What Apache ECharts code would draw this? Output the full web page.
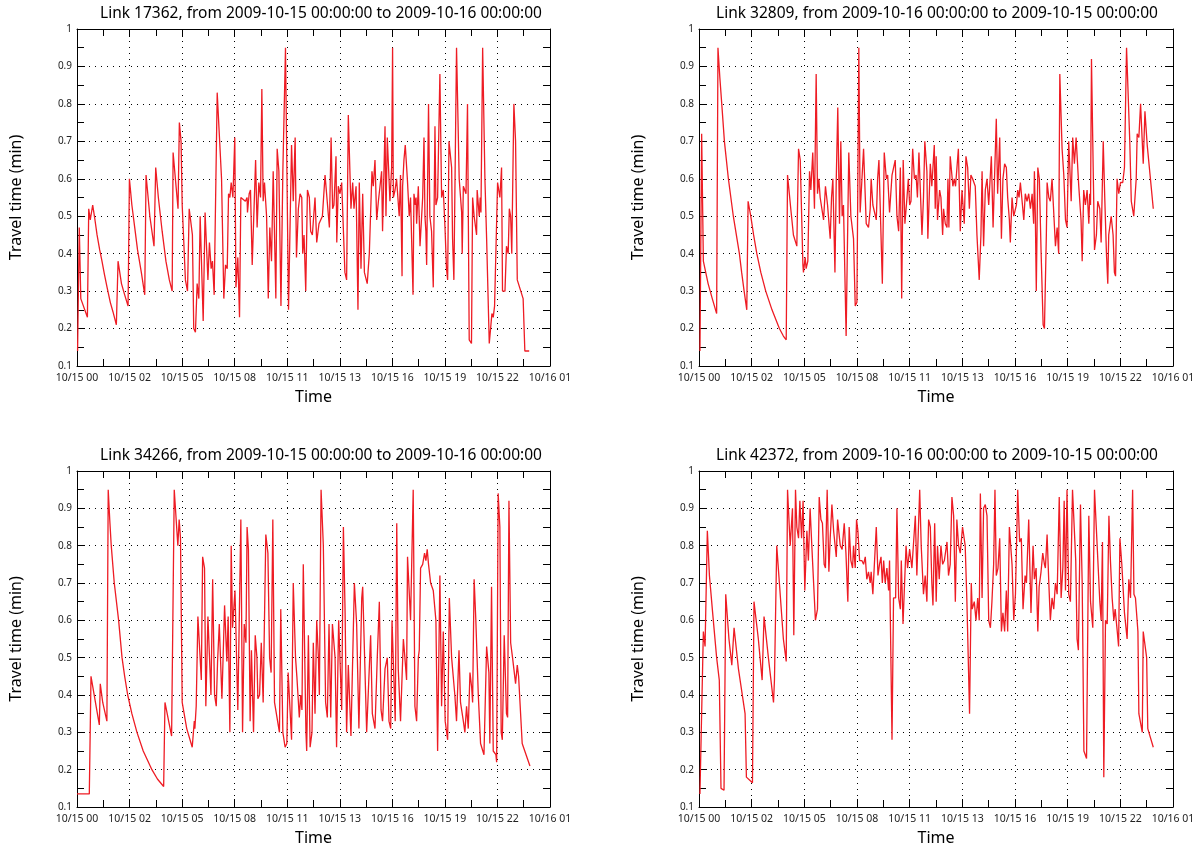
<!DOCTYPE html>
<html><head><meta charset="utf-8">
<script src="https://cdn.jsdelivr.net/npm/echarts@6/dist/echarts.min.js"></script>
<style>html,body{margin:0;padding:0;background:#fff}#c{width:1198px;height:851px}</style>
</head><body><div id="c"></div>
<script>
// x tick labels (axis spans 0..25 hours, 9 equal intervals)
const tickLabels = ['10/15 00','10/15 02','10/15 05','10/15 08','10/15 11','10/15 13','10/15 16','10/15 19','10/15 22','10/16 01'];
const titles = [
  'Link 17362, from 2009-10-15 00:00:00 to 2009-10-16 00:00:00',
  'Link 32809, from 2009-10-16 00:00:00 to 2009-10-15 00:00:00',
  'Link 34266, from 2009-10-15 00:00:00 to 2009-10-16 00:00:00',
  'Link 42372, from 2009-10-16 00:00:00 to 2009-10-15 00:00:00'
];
// [hours since 10/15 00:00, travel time (min)]
const link17362 = [[0.03,0.14],[0.12,0.47],[0.2,0.28],[0.55,0.23],[0.62,0.52],[0.7,0.49],[0.83,0.53],[0.95,0.49],[1.06,0.45],[1.2,0.41],[1.32,0.38],[1.45,0.345],[1.59,0.31],[1.76,0.27],[1.9,0.245],[2.03,0.22],[2.08,0.21],[2.17,0.38],[2.35,0.32],[2.52,0.29],[2.7,0.26],[2.77,0.6],[2.9,0.53],[3.05,0.47],[3.2,0.41],[3.4,0.35],[3.58,0.29],[3.65,0.61],[3.85,0.5],[4.07,0.42],[4.16,0.63],[4.3,0.55],[4.5,0.46],[4.7,0.38],[4.88,0.33],[5.03,0.3],[5.08,0.67],[5.2,0.6],[5.34,0.52],[5.41,0.75],[5.5,0.7],[5.56,0.53],[5.73,0.33],[5.84,0.3],[5.93,0.52],[6.1,0.45],[6.17,0.2],[6.26,0.19],[6.35,0.32],[6.44,0.28],[6.51,0.5],[6.67,0.22],[6.77,0.51],[6.86,0.51],[6.92,0.33],[7.0,0.43],[7.09,0.36],[7.16,0.38],[7.25,0.29],[7.41,0.83],[7.51,0.83],[7.64,0.6],[7.76,0.28],[7.85,0.37],[7.94,0.36],[8.01,0.56],[8.08,0.55],[8.15,0.59],[8.24,0.55],[8.34,0.71],[8.4,0.31],[8.5,0.39],[8.59,0.23],[8.66,0.55],[8.9,0.54],[8.99,0.55],[9.01,0.51],[9.1,0.56],[9.17,0.57],[9.26,0.37],[9.44,0.65],[9.52,0.47],[9.61,0.59],[9.7,0.55],[9.77,0.84],[9.84,0.54],[9.91,0.59],[10.02,0.5],[10.11,0.28],[10.19,0.47],[10.28,0.38],[10.37,0.62],[10.51,0.28],[10.58,0.68],[10.67,0.62],[10.78,0.26],[10.88,0.62],[11.02,0.95],[11.18,0.25],[11.34,0.69],[11.43,0.54],[11.53,0.71],[11.6,0.39],[11.7,0.52],[11.79,0.56],[11.88,0.55],[11.93,0.4],[12.0,0.45],[12.09,0.3],[12.18,0.57],[12.28,0.55],[12.35,0.46],[12.44,0.45],[12.58,0.55],[12.67,0.43],[12.79,0.48],[12.88,0.49],[12.97,0.5],[13.11,0.61],[13.34,0.47],[13.43,0.71],[13.51,0.52],[13.58,0.53],[13.69,0.66],[13.73,0.43],[13.81,0.58],[13.9,0.56],[13.99,0.59],[14.16,0.35],[14.25,0.33],[14.34,0.77],[14.48,0.52],[14.57,0.59],[14.64,0.52],[14.75,0.58],[14.85,0.25],[14.92,0.59],[15.01,0.36],[15.1,0.56],[15.19,0.35],[15.34,0.32],[15.45,0.4],[15.59,0.62],[15.66,0.58],[15.75,0.65],[15.84,0.49],[15.93,0.54],[16.01,0.54],[16.1,0.62],[16.15,0.46],[16.28,0.74],[16.33,0.5],[16.4,0.71],[16.54,0.54],[16.63,0.63],[16.68,0.95],[16.72,0.55],[16.81,0.57],[16.89,0.6],[17.03,0.5],[17.1,0.61],[17.18,0.34],[17.21,0.58],[17.28,0.65],[17.35,0.69],[17.46,0.6],[17.56,0.5],[17.63,0.55],[17.76,0.29],[17.81,0.56],[17.88,0.53],[17.92,0.55],[17.95,0.48],[18.04,0.58],[18.13,0.42],[18.21,0.42],[18.27,0.55],[18.34,0.71],[18.39,0.5],[18.44,0.46],[18.48,0.37],[18.58,0.8],[18.65,0.5],[18.74,0.46],[18.83,0.31],[18.92,0.74],[18.97,0.53],[19.06,0.55],[19.18,0.88],[19.27,0.55],[19.36,0.57],[19.45,0.47],[19.53,0.36],[19.59,0.33],[19.66,0.7],[19.8,0.63],[19.85,0.44],[19.92,0.33],[20.06,0.95],[20.2,0.6],[20.33,0.51],[20.36,0.4],[20.42,0.58],[20.56,0.56],[20.64,0.8],[20.73,0.17],[20.85,0.16],[20.91,0.55],[20.99,0.5],[21.08,0.5],[21.12,0.45],[21.15,0.57],[21.26,0.5],[21.31,0.55],[21.35,0.51],[21.44,0.95],[21.56,0.6],[21.65,0.44],[21.79,0.16],[21.86,0.16],[21.93,0.24],[22.0,0.23],[22.07,0.26],[22.23,0.59],[22.35,0.55],[22.44,0.63],[22.49,0.3],[22.62,0.3],[22.7,0.42],[22.79,0.4],[22.85,0.52],[22.92,0.5],[22.98,0.4],[23.09,0.8],[23.18,0.7],[23.27,0.33],[23.58,0.28],[23.67,0.14],[23.9,0.14]];
const link32809 = [[0.05,0.14],[0.14,0.72],[0.23,0.38],[0.48,0.32],[0.7,0.28],[0.93,0.24],[1.0,0.95],[1.1,0.87],[1.2,0.8],[1.34,0.7],[1.55,0.6],[1.81,0.5],[2.13,0.4],[2.25,0.35],[2.38,0.3],[2.52,0.25],[2.59,0.54],[2.73,0.5],[2.88,0.45],[3.05,0.4],[3.26,0.35],[3.52,0.3],[3.85,0.25],[4.24,0.2],[4.45,0.18],[4.6,0.17],[4.67,0.61],[4.84,0.52],[4.98,0.45],[5.07,0.45],[5.16,0.42],[5.25,0.68],[5.34,0.65],[5.48,0.37],[5.51,0.35],[5.6,0.39],[5.65,0.36],[5.74,0.38],[5.83,0.62],[5.9,0.57],[6.0,0.67],[6.09,0.52],[6.18,0.88],[6.25,0.56],[6.32,0.6],[6.39,0.55],[6.48,0.55],[6.57,0.49],[6.67,0.58],[6.78,0.53],[6.92,0.44],[6.99,0.55],[7.06,0.6],[7.17,0.35],[7.24,0.6],[7.32,0.79],[7.41,0.48],[7.48,0.7],[7.55,0.5],[7.62,0.53],[7.76,0.18],[7.9,0.67],[8.01,0.5],[8.15,0.44],[8.24,0.26],[8.33,0.27],[8.43,0.95],[8.5,0.51],[8.68,0.68],[8.82,0.48],[8.94,0.47],[9.03,0.52],[9.08,0.6],[9.17,0.53],[9.26,0.53],[9.35,0.49],[9.42,0.6],[9.49,0.65],[9.67,0.32],[9.77,0.67],[9.88,0.6],[9.95,0.61],[10.05,0.51],[10.18,0.61],[10.27,0.61],[10.35,0.65],[10.44,0.5],[10.53,0.46],[10.62,0.63],[10.69,0.28],[10.77,0.65],[10.86,0.48],[10.97,0.55],[11.04,0.6],[11.11,0.53],[11.18,0.54],[11.27,0.68],[11.36,0.6],[11.45,0.61],[11.52,0.55],[11.6,0.67],[11.76,0.45],[11.84,0.55],[11.91,0.7],[12.02,0.62],[12.07,0.44],[12.2,0.64],[12.28,0.58],[12.41,0.69],[12.46,0.52],[12.51,0.66],[12.58,0.49],[12.69,0.57],[12.76,0.55],[12.85,0.45],[12.9,0.52],[12.99,0.48],[13.08,0.47],[13.13,0.6],[13.18,0.47],[13.25,0.66],[13.39,0.58],[13.46,0.6],[13.53,0.58],[13.68,0.68],[13.78,0.46],[13.87,0.57],[13.99,0.48],[14.08,0.66],[14.17,0.63],[14.26,0.52],[14.34,0.61],[14.43,0.6],[14.57,0.58],[14.66,0.45],[14.78,0.33],[14.87,0.45],[14.93,0.62],[15.01,0.42],[15.1,0.57],[15.19,0.6],[15.28,0.53],[15.42,0.66],[15.51,0.47],[15.58,0.59],[15.68,0.76],[15.75,0.56],[15.86,0.71],[15.95,0.44],[16.03,0.6],[16.12,0.64],[16.21,0.63],[16.28,0.55],[16.37,0.49],[16.42,0.43],[16.51,0.55],[16.6,0.5],[16.69,0.5],[16.74,0.53],[16.81,0.57],[16.88,0.55],[16.95,0.59],[17.06,0.53],[17.13,0.49],[17.21,0.56],[17.3,0.54],[17.39,0.56],[17.48,0.52],[17.57,0.56],[17.65,0.48],[17.69,0.62],[17.74,0.5],[17.79,0.3],[17.87,0.63],[17.95,0.6],[18.04,0.41],[18.15,0.21],[18.22,0.2],[18.32,0.45],[18.36,0.59],[18.45,0.55],[18.53,0.54],[18.62,0.6],[18.8,0.42],[18.89,0.47],[18.97,0.4],[19.03,0.88],[19.15,0.68],[19.24,0.61],[19.33,0.49],[19.41,0.47],[19.5,0.7],[19.63,0.54],[19.71,0.71],[19.8,0.64],[19.89,0.71],[20.03,0.58],[20.15,0.49],[20.21,0.38],[20.29,0.57],[20.38,0.53],[20.47,0.57],[20.56,0.48],[20.61,0.56],[20.65,0.53],[20.7,0.92],[20.79,0.63],[20.86,0.41],[20.96,0.45],[21.03,0.54],[21.14,0.52],[21.21,0.43],[21.28,0.6],[21.32,0.7],[21.4,0.55],[21.49,0.4],[21.56,0.32],[21.61,0.45],[21.74,0.5],[21.84,0.45],[21.91,0.35],[21.97,0.34],[22.05,0.6],[22.14,0.56],[22.23,0.59],[22.35,0.59],[22.44,0.63],[22.55,0.95],[22.72,0.7],[22.8,0.54],[22.93,0.5],[23.06,0.6],[23.11,0.72],[23.2,0.71],[23.29,0.8],[23.43,0.64],[23.52,0.78],[23.64,0.69],[23.96,0.52]];
const link34266 = [[0,0.135],[0.65,0.135],[0.74,0.45],[1.18,0.32],[1.23,0.43],[1.36,0.38],[1.58,0.33],[1.65,0.95],[1.73,0.87],[1.81,0.8],[1.97,0.7],[2.2,0.6],[2.38,0.5],[2.52,0.45],[2.68,0.4],[2.9,0.35],[3.17,0.3],[3.5,0.25],[3.96,0.2],[4.25,0.175],[4.58,0.155],[4.65,0.38],[5.0,0.29],[5.14,0.95],[5.33,0.8],[5.4,0.87],[5.47,0.82],[5.56,0.38],[5.8,0.31],[6.09,0.26],[6.2,0.33],[6.23,0.31],[6.3,0.37],[6.39,0.61],[6.57,0.44],[6.64,0.77],[6.74,0.74],[6.81,0.37],[6.92,0.61],[7.08,0.4],[7.17,0.71],[7.27,0.4],[7.36,0.37],[7.43,0.49],[7.52,0.59],[7.66,0.39],[7.8,0.64],[7.92,0.49],[7.99,0.61],[8.08,0.3],[8.15,0.8],[8.22,0.58],[8.35,0.68],[8.5,0.36],[8.66,0.87],[8.75,0.3],[8.84,0.59],[8.93,0.54],[8.99,0.85],[9.06,0.79],[9.15,0.33],[9.22,0.52],[9.33,0.3],[9.42,0.56],[9.51,0.5],[9.56,0.39],[9.65,0.4],[9.74,0.54],[9.84,0.38],[9.98,0.83],[10.09,0.78],[10.18,0.5],[10.26,0.46],[10.35,0.87],[10.44,0.38],[10.7,0.3],[10.77,0.63],[10.88,0.3],[11.0,0.26],[11.09,0.27],[11.16,0.46],[11.34,0.28],[11.43,0.7],[11.55,0.5],[11.62,0.45],[11.75,0.34],[11.82,0.4],[11.89,0.36],[11.96,0.75],[12.1,0.3],[12.14,0.25],[12.23,0.56],[12.32,0.26],[12.42,0.3],[12.49,0.54],[12.58,0.35],[12.67,0.6],[12.76,0.5],[12.81,0.4],[12.9,0.95],[13.02,0.8],[13.14,0.38],[13.23,0.34],[13.32,0.59],[13.41,0.34],[13.5,0.59],[13.64,0.5],[13.72,0.26],[13.83,0.6],[13.99,0.36],[14.08,0.85],[14.17,0.62],[14.25,0.3],[14.34,0.48],[14.48,0.29],[14.66,0.7],[14.78,0.59],[14.9,0.31],[15.05,0.66],[15.1,0.69],[15.31,0.3],[15.4,0.3],[15.52,0.56],[15.61,0.35],[15.75,0.31],[15.87,0.5],[15.98,0.65],[16.07,0.36],[16.15,0.33],[16.28,0.47],[16.4,0.5],[16.49,0.33],[16.58,0.31],[16.65,0.6],[16.72,0.6],[16.82,0.33],[16.9,0.86],[16.98,0.47],[17.1,0.33],[17.25,0.55],[17.33,0.5],[17.42,0.44],[17.47,0.77],[17.63,0.6],[17.77,0.95],[17.86,0.37],[17.95,0.33],[18.04,0.5],[18.09,0.52],[18.16,0.74],[18.27,0.75],[18.37,0.78],[18.44,0.76],[18.51,0.79],[18.58,0.75],[18.69,0.7],[18.83,0.68],[18.97,0.6],[19.06,0.25],[19.18,0.72],[19.27,0.37],[19.36,0.57],[19.46,0.33],[19.59,0.28],[19.68,0.66],[19.8,0.5],[19.97,0.4],[20.06,0.33],[20.19,0.52],[20.27,0.38],[20.42,0.33],[20.5,0.3],[20.59,0.37],[20.68,0.31],[20.77,0.46],[20.86,0.42],[20.91,0.38],[20.99,0.71],[21.08,0.6],[21.21,0.4],[21.33,0.27],[21.51,0.24],[21.65,0.53],[21.77,0.46],[21.82,0.27],[21.91,0.69],[22.0,0.25],[22.14,0.24],[22.18,0.22],[22.26,0.94],[22.35,0.85],[22.42,0.3],[22.48,0.28],[22.58,0.56],[22.7,0.35],[22.76,0.34],[22.83,0.92],[22.92,0.54],[23.02,0.5],[23.09,0.47],[23.18,0.43],[23.27,0.48],[23.34,0.45],[23.41,0.45],[23.53,0.27],[23.94,0.21]];
const link42372 = [[0.05,0.135],[0.14,0.135],[0.23,0.57],[0.32,0.53],[0.44,0.84],[0.55,0.72],[0.72,0.62],[0.93,0.5],[1.07,0.44],[1.16,0.15],[1.32,0.145],[1.41,0.67],[1.58,0.55],[1.73,0.48],[1.85,0.58],[2.08,0.47],[2.43,0.35],[2.5,0.18],[2.82,0.165],[2.9,0.65],[3.13,0.55],[3.22,0.5],[3.33,0.44],[3.43,0.61],[3.66,0.5],[3.93,0.38],[3.98,0.44],[4.1,0.8],[4.24,0.7],[4.45,0.55],[4.6,0.49],[4.67,0.95],[4.81,0.8],[4.86,0.8],[4.93,0.9],[5.0,0.56],[5.09,0.95],[5.16,0.85],[5.25,0.82],[5.32,0.92],[5.41,0.82],[5.49,0.92],[5.58,0.68],[5.69,0.84],[5.77,0.76],[5.86,0.9],[5.95,0.8],[6.14,0.6],[6.25,0.63],[6.34,0.93],[6.43,0.87],[6.51,0.86],[6.6,0.75],[6.67,0.74],[6.76,0.95],[6.85,0.73],[6.92,0.82],[7.01,0.91],[7.1,0.84],[7.24,0.77],[7.31,0.87],[7.45,0.8],[7.55,0.79],[7.66,0.86],[7.75,0.78],[7.85,0.65],[7.92,0.85],[8.01,0.76],[8.1,0.74],[8.15,0.8],[8.24,0.74],[8.31,0.87],[8.38,0.84],[8.47,0.76],[8.59,0.76],[8.68,0.75],[8.77,0.77],[8.85,0.71],[8.94,0.73],[9.03,0.7],[9.08,0.73],[9.17,0.67],[9.35,0.85],[9.44,0.72],[9.52,0.75],[9.6,0.77],[9.67,0.7],[9.74,0.76],[9.82,0.7],[9.91,0.74],[10.0,0.68],[10.05,0.76],[10.18,0.28],[10.26,0.66],[10.37,0.66],[10.44,0.9],[10.53,0.66],[10.62,0.63],[10.67,0.76],[10.76,0.59],[10.92,0.8],[11.0,0.74],[11.11,0.79],[11.23,0.74],[11.41,0.88],[11.49,0.72],[11.64,0.95],[11.72,0.8],[11.84,0.67],[11.93,0.72],[12.02,0.65],[12.11,0.87],[12.2,0.85],[12.28,0.7],[12.34,0.64],[12.43,0.86],[12.51,0.65],[12.58,0.8],[12.67,0.71],[12.76,0.8],[12.85,0.75],[12.94,0.76],[13.08,0.81],[13.16,0.72],[13.25,0.75],[13.34,0.93],[13.43,0.88],[13.52,0.65],[13.6,0.87],[13.69,0.8],[13.78,0.78],[13.9,0.85],[14.04,0.8],[14.13,0.65],[14.27,0.35],[14.36,0.7],[14.41,0.63],[14.52,0.65],[14.61,0.6],[14.7,0.66],[14.78,0.6],[14.84,0.94],[14.93,0.66],[15.01,0.9],[15.1,0.91],[15.19,0.88],[15.28,0.6],[15.37,0.58],[15.45,0.65],[15.54,0.75],[15.61,0.95],[15.68,0.72],[15.77,0.74],[15.86,0.82],[15.95,0.57],[16.03,0.62],[16.12,0.57],[16.21,0.68],[16.28,0.57],[16.37,0.85],[16.51,0.75],[16.6,0.6],[16.69,0.67],[16.81,0.95],[16.91,0.81],[17.0,0.82],[17.09,0.63],[17.2,0.72],[17.27,0.7],[17.39,0.87],[17.51,0.62],[17.62,0.8],[17.69,0.71],[17.78,0.74],[17.87,0.57],[17.94,0.69],[18.04,0.73],[18.13,0.78],[18.22,0.75],[18.27,0.74],[18.36,0.83],[18.45,0.7],[18.53,0.6],[18.62,0.66],[18.71,0.63],[18.8,0.7],[18.89,0.67],[19.0,0.93],[19.1,0.66],[19.19,0.74],[19.26,0.92],[19.33,0.68],[19.41,0.95],[19.5,0.67],[19.59,0.65],[19.7,0.95],[19.77,0.95],[19.87,0.76],[19.94,0.55],[20.01,0.52],[20.12,0.91],[20.21,0.7],[20.3,0.25],[20.44,0.23],[20.56,0.88],[20.65,0.65],[20.77,0.58],[20.86,0.95],[21.0,0.8],[21.14,0.65],[21.21,0.6],[21.28,0.81],[21.35,0.18],[21.44,0.6],[21.53,0.59],[21.62,0.88],[21.7,0.76],[21.79,0.66],[21.88,0.6],[21.95,0.63],[22.06,0.57],[22.13,0.53],[22.2,0.82],[22.3,0.75],[22.44,0.62],[22.58,0.55],[22.67,0.71],[22.76,0.66],[22.87,0.95],[22.94,0.67],[23.02,0.66],[23.15,0.57],[23.2,0.35],[23.38,0.3],[23.43,0.57],[23.61,0.5],[23.67,0.31],[23.96,0.26]];

const seriesData = [link17362, link32809, link34266, link42372];
const FONT = 'Noto Sans';
const X_MIN = 0, X_MAX = 25, X_INT = 25 / 9;
const Y_MIN = 0.1, Y_MAX = 1, Y_INT = 0.1;

const grids = [
  {left: 77, top: 29, width: 473, height: 337},
  {left: 699, top: 29, width: 474, height: 337},
  {left: 77, top: 471, width: 473, height: 336},
  {left: 699, top: 471, width: 474, height: 336}
];
const titleCenters = [321, 937, 321, 937];

const xAxes = [], yAxes = [], titleOpts = [], series = [];
const tick = {show: true, inside: true, length: 8, lineStyle: {color: '#000', width: 1}};
const minor = {show: true, splitNumber: 2, length: 7, lineStyle: {color: '#000', width: 1}};
const axisLine = {show: true, onZero: false, lineStyle: {color: '#000', width: 1}};
const dotted = {show: true, lineStyle: {color: '#000', width: 1, type: [1, 5]}};

grids.forEach((g, i) => {
  xAxes.push({
    type: 'value', gridIndex: i, position: 'bottom', min: X_MIN, max: X_MAX, interval: X_INT,
    axisLine, axisTick: tick, minorTick: minor, splitLine: dotted,
    axisLabel: {show: true, margin: 7, color: '#222', fontFamily: FONT, fontSize: 10.5,
      formatter: v => tickLabels[Math.round(v / X_INT)] || ''},
    name: 'Time', nameLocation: 'middle', nameGap: 23,
    nameTextStyle: {fontFamily: FONT, fontSize: 16, color: '#000'}
  });
  yAxes.push({
    type: 'value', gridIndex: i, position: 'left', min: Y_MIN, max: Y_MAX, interval: Y_INT,
    axisLine, axisTick: tick, minorTick: minor, splitLine: dotted,
    axisLabel: {show: true, margin: 5, color: '#222', fontFamily: FONT, fontSize: 10,
      formatter: v => String(+v.toFixed(1))},
    name: 'Travel time (min)', nameLocation: 'middle', nameGap: 53, nameRotate: 90,
    nameTextStyle: {fontFamily: FONT, fontSize: 16, color: '#000'}
  });
  titleOpts.push({
    text: titles[i], left: titleCenters[i], top: g.top - 23, textAlign: 'center', padding: 0,
    textStyle: {fontFamily: FONT, fontSize: 15.5, fontWeight: 'normal', color: '#000'}
  });
  series.push({
    type: 'line', xAxisIndex: i, yAxisIndex: i, data: seriesData[i],
    showSymbol: false, symbol: 'none', animation: false,
    lineStyle: {color: '#ee1c24', width: 1.3}
  });
});
// frame axes (top and right) with inward ticks
grids.forEach((g, i) => {
  xAxes.push({
    type: 'value', gridIndex: i, position: 'top', min: X_MIN, max: X_MAX, interval: X_INT,
    axisLine, axisTick: tick, minorTick: minor, splitLine: {show: false}, axisLabel: {show: false}
  });
  yAxes.push({
    type: 'value', gridIndex: i, position: 'right', min: Y_MIN, max: Y_MAX, interval: Y_INT,
    axisLine, axisTick: tick, minorTick: minor, splitLine: {show: false}, axisLabel: {show: false}
  });
});

const chart = echarts.init(document.getElementById('c'), null, {renderer: 'canvas'});
chart.setOption({
  backgroundColor: '#fff',
  animation: false,
  title: titleOpts,
  grid: grids.map(g => Object.assign({containLabel: false, outerBoundsMode: 'none'}, g)),
  xAxis: xAxes,
  yAxis: yAxes,
  series
});
</script>
</body></html>
